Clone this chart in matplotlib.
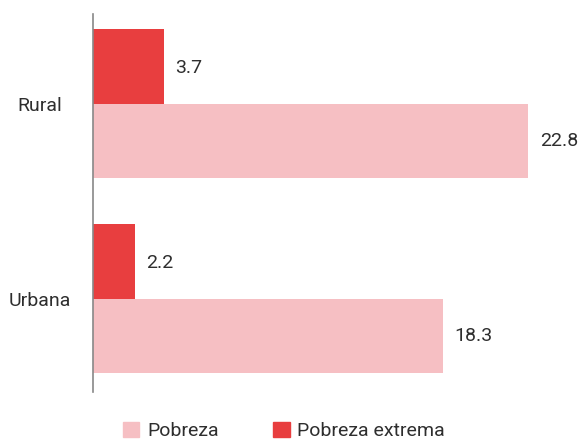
import matplotlib
matplotlib.use('Agg')
import matplotlib.pyplot as plt
from matplotlib.patches import Patch

plt.rcParams['font.family'] = ['Roboto', 'DejaVu Sans']

categories = ['Rural', 'Urbana']
pobreza = [22.8, 18.3]
pobreza_extrema = [3.7, 2.2]
series_labels = ['Pobreza', 'Pobreza extrema']

RED = '#e83e3f'
PINK = '#f6bfc3'
TXT = '#2e2e2e'

fig = plt.figure(figsize=(5.8, 4.42), dpi=100)
ax = fig.add_axes([93 / 580, 1 - 392 / 442, 1 - 93 / 580, (392 - 14) / 442])

y = range(len(categories))
h = 0.38
off = 0.19
for i in y:
    ax.barh(i - off, pobreza_extrema[i], height=h, color=RED)
    ax.barh(i + off, pobreza[i], height=h, color=PINK)
    ax.text(pobreza_extrema[i] + 0.6, i - off + 0.01, f"{pobreza_extrema[i]:.1f}",
            va='center', ha='left', fontsize=14, color=TXT)
    ax.text(pobreza[i] + 0.6, i + off, f"{pobreza[i]:.1f}",
            va='center', ha='left', fontsize=14, color=TXT)

ax.set_xlim(0, 487 / 19.1)
ax.set_ylim(1.479, -0.459)
ax.set_yticks(list(y))
ax.set_yticklabels(categories, fontsize=14, color=TXT, ha='center')
ax.tick_params(axis='y', length=0, pad=38)
ax.set_xticks([])
for s in ['top', 'right', 'bottom']:
    ax.spines[s].set_visible(False)
ax.spines['left'].set_color('#888888')
ax.spines['left'].set_linewidth(1.2)

handles = [Patch(color=PINK), Patch(color=RED)]
leg = fig.legend(handles, series_labels, loc='center', bbox_to_anchor=(284 / 580, 1 - 431 / 442),
                 ncol=2, frameon=False, fontsize=14, handlelength=0.85, handleheight=0.85,
                 handletextpad=0.4, columnspacing=2.8)
for t in leg.get_texts():
    t.set_color(TXT)

fig.savefig('out.png', dpi=100)
